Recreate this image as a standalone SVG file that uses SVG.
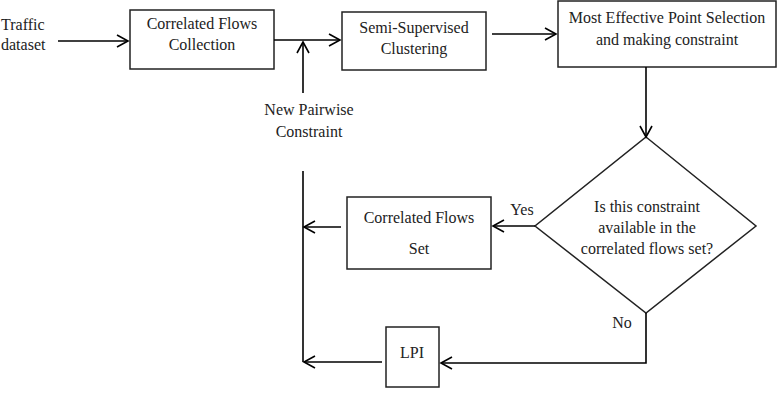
<svg xmlns="http://www.w3.org/2000/svg" width="779" height="400" viewBox="0 0 779 400">
<defs>
<marker id="ah" markerWidth="14" markerHeight="14" refX="12" refY="7" orient="auto" markerUnits="userSpaceOnUse">
<path d="M1,1 L12,7 L1,13" fill="none" stroke="#000" stroke-width="1.6"/>
</marker>
<style>
.box{fill:#fff;stroke:#222;stroke-width:1.5}
text{font-family:"Liberation Serif","Times New Roman",serif;font-size:16px;fill:#222;text-anchor:middle}
.c{fill:none;stroke:#000;stroke-width:1.6}
</style>
</defs>
<rect width="779" height="400" fill="#fff"/>
<g id="traffic"><text x="1" y="30" style="text-anchor:start">Traffic</text><text x="1" y="50" style="text-anchor:start">dataset</text></g>
<g id="collection"><rect class="box" x="130" y="10" width="144" height="59"/><text x="202" y="29">Correlated Flows</text><text x="202" y="50">Collection</text></g>
<g id="clustering"><rect class="box" x="342" y="12" width="144" height="58"/><text x="414" y="33">Semi-Supervised</text><text x="414" y="54">Clustering</text></g>
<g id="selection"><rect class="box" x="558" y="1" width="218" height="66"/><text x="667" y="23">Most Effective Point Selection</text><text x="667" y="45">and making constraint</text></g>
<g id="pairwise"><text x="309" y="115">New Pairwise</text><text x="309" y="137">Constraint</text></g>
<g id="decision"><polygon class="box" points="646,137 756,226 646,313 535,226"/><text x="647" y="212">Is this constraint</text><text x="647" y="233">available in the</text><text x="647" y="254">correlated flows set?</text></g>
<g id="flowset"><rect class="box" x="347" y="197" width="144" height="72"/><text x="419" y="223">Correlated Flows</text><text x="419" y="254">Set</text></g>
<g id="lpi"><rect class="box" x="386" y="327" width="53" height="60"/><text x="412" y="358">LPI</text></g>
<g id="labels"><text x="522" y="215">Yes</text><text x="622" y="328">No</text></g>
<g id="connectors">
<line class="c" x1="58" y1="41" x2="128" y2="41" marker-end="url(#ah)"/>
<line class="c" x1="274" y1="40" x2="340" y2="40" marker-end="url(#ah)"/>
<line class="c" x1="303" y1="93" x2="303" y2="42" marker-end="url(#ah)"/>
<line class="c" x1="492" y1="34" x2="556" y2="34" marker-end="url(#ah)"/>
<line class="c" x1="646" y1="67" x2="646" y2="137" marker-end="url(#ah)"/>
<line class="c" x1="535" y1="226" x2="493" y2="226" marker-end="url(#ah)"/>
<line class="c" x1="341" y1="227" x2="304" y2="227" marker-end="url(#ah)"/>
<line class="c" x1="303" y1="171" x2="303" y2="362"/>
<polyline class="c" points="646,313 646,363 441,363" marker-end="url(#ah)"/>
<line class="c" x1="382" y1="362" x2="304" y2="362" marker-end="url(#ah)"/>
</g>
</svg>
